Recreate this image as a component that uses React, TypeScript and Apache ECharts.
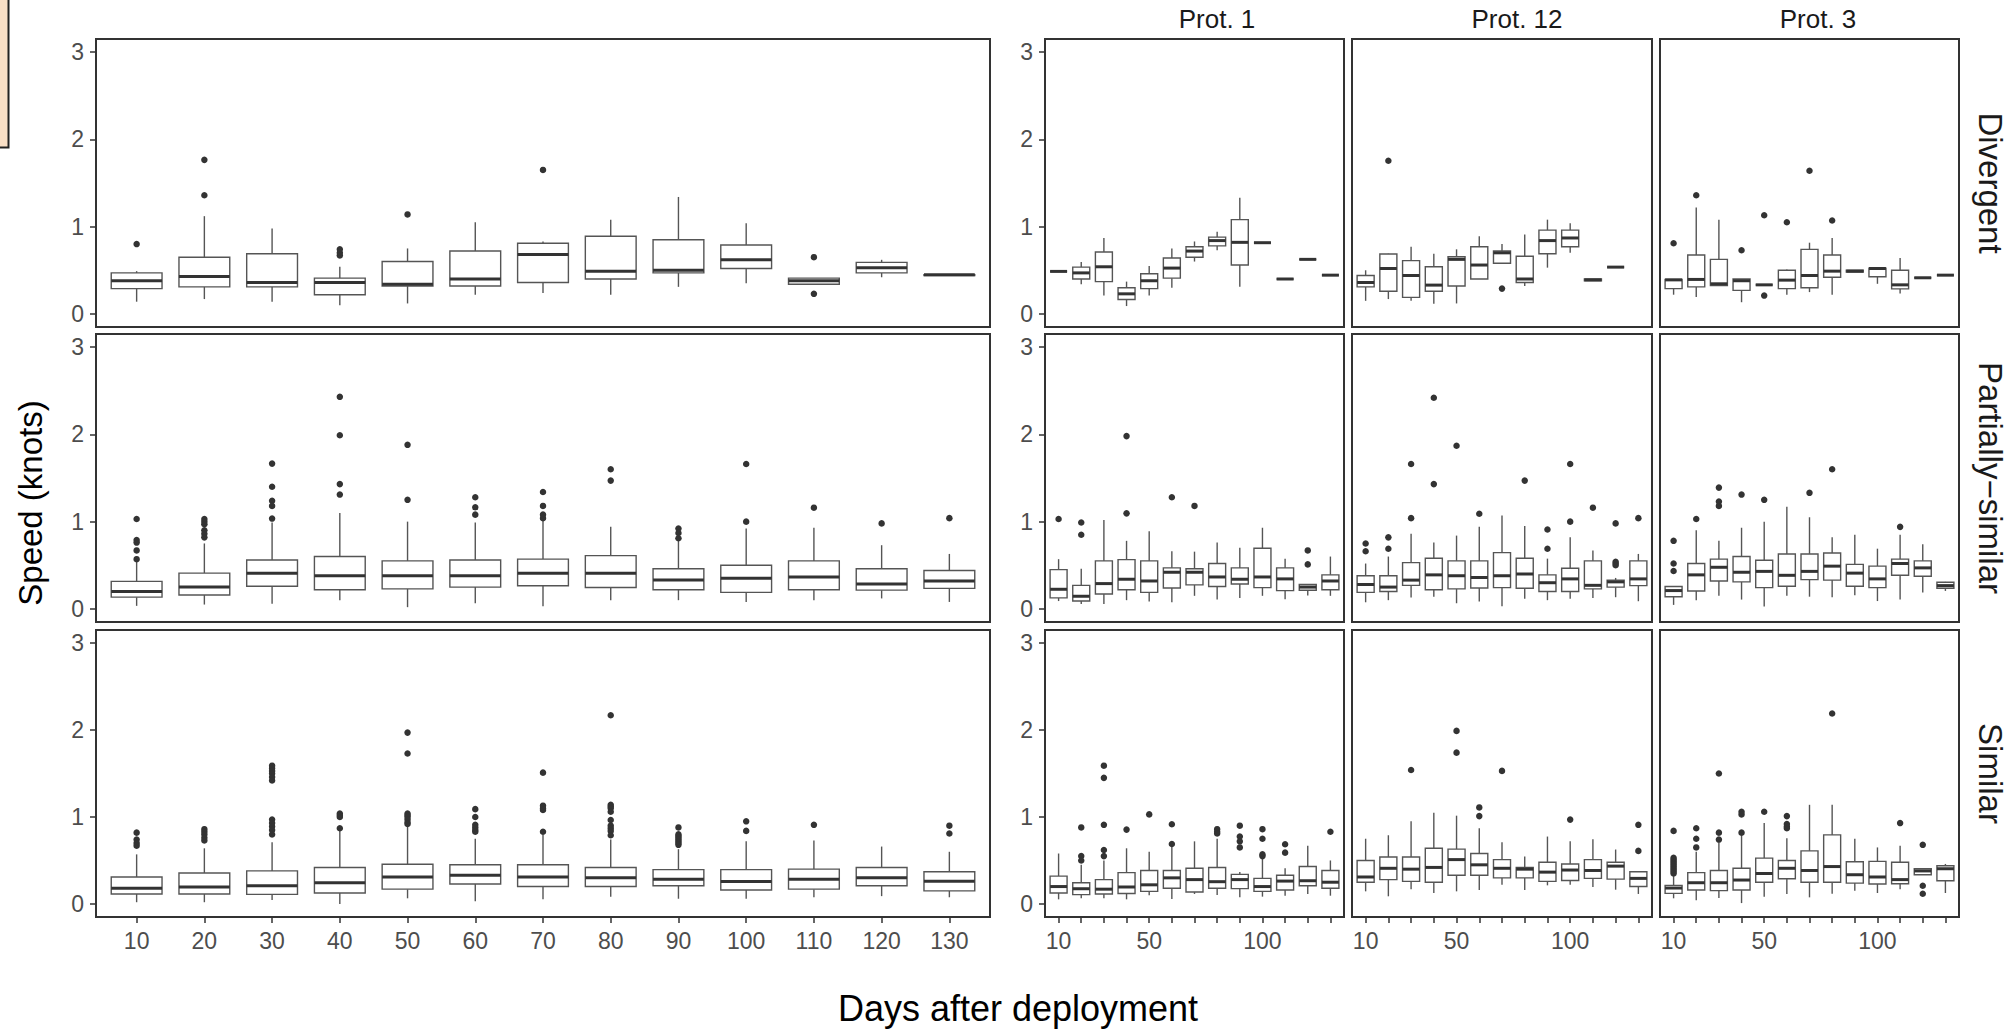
import React, { useEffect, useRef } from "react";
import * as echarts from "echarts";

// Sampling days (x categories) and labels
const days = [10, 20, 30, 40, 50, 60, 70, 80, 90, 100, 110, 120, 130];
const protTickDays = [10, 50, 100];
const yTicks = [0, 1, 2, 3];
const rowLabels = ["Divergent", "Partially\u2212similar", "Similar"];
const colTitles = ["", "Prot. 1", "Prot. 12", "Prot. 3"];

// Box statistics per day: [lower whisker, Q1, median, Q3, upper whisker]
type Box = number[] | null;

const allDivergent: Box[] = [
  [0.14, 0.29, 0.38, 0.47, 0.49],
  [0.17, 0.31, 0.43, 0.65, 1.12],
  [0.14, 0.31, 0.36, 0.69, 0.98],
  [0.1, 0.22, 0.36, 0.41, 0.54],
  [0.12, 0.32, 0.34, 0.6, 0.75],
  [0.22, 0.32, 0.4, 0.72, 1.05],
  [0.24, 0.36, 0.68, 0.81, 0.83],
  [0.22, 0.4, 0.49, 0.89, 1.08],
  [0.31, 0.47, 0.5, 0.85, 1.34],
  [0.35, 0.52, 0.62, 0.79, 1.04],
  [0.34, 0.34, 0.38, 0.41, 0.41],
  [0.42, 0.47, 0.53, 0.59, 0.62],
  [0.44, 0.44, 0.45, 0.45, 0.45],
];
const allDivergentOut: number[][] = [
  [0.8], [1.36, 1.765], [], [0.67, 0.7, 0.74], [1.14], [], [1.65], [], [], [], [0.65, 0.23], [], [],
];

const allPartial: Box[] = [
  [0.035, 0.135, 0.2, 0.315, 0.54],
  [0.05, 0.16, 0.25, 0.41, 0.75],
  [0.06, 0.26, 0.41, 0.56, 0.99],
  [0.1, 0.22, 0.38, 0.6, 1.1],
  [0.02, 0.23, 0.38, 0.55, 1.0],
  [0.065, 0.25, 0.38, 0.56, 0.99],
  [0.03, 0.265, 0.41, 0.57, 1.02],
  [0.1, 0.245, 0.41, 0.61, 0.94],
  [0.1, 0.22, 0.33, 0.46, 0.78],
  [0.08, 0.19, 0.35, 0.5, 0.92],
  [0.1, 0.22, 0.365, 0.55, 0.93],
  [0.12, 0.215, 0.285, 0.46, 0.73],
  [0.08, 0.235, 0.32, 0.44, 0.63],
];
const allPartialOut: number[][] = [
  [1.03, 0.79, 0.76, 0.67, 0.57],
  [1.03, 1.0, 0.97, 0.9, 0.86, 0.82],
  [1.665, 1.4, 1.24, 1.18, 1.035],
  [2.43, 1.99, 1.43, 1.31],
  [1.88, 1.25],
  [1.28, 1.165, 1.08],
  [1.34, 1.18, 1.08, 1.04],
  [1.6, 1.47],
  [0.92, 0.87, 0.81],
  [1.66, 1.0],
  [1.16],
  [0.98],
  [1.04],
];

const allSimilar: Box[] = [
  [0.02, 0.115, 0.18, 0.31, 0.57],
  [0.02, 0.115, 0.195, 0.356, 0.64],
  [0.046, 0.11, 0.21, 0.38, 0.71],
  [0.0, 0.126, 0.245, 0.42, 0.84],
  [0.065, 0.17, 0.31, 0.456, 0.89],
  [0.03, 0.23, 0.33, 0.45, 0.75],
  [0.054, 0.2, 0.31, 0.45, 0.8],
  [0.084, 0.2, 0.3, 0.42, 0.74],
  [0.06, 0.21, 0.284, 0.395, 0.63],
  [0.06, 0.16, 0.257, 0.395, 0.72],
  [0.077, 0.17, 0.284, 0.4, 0.73],
  [0.09, 0.21, 0.3, 0.42, 0.66],
  [0.077, 0.15, 0.26, 0.37, 0.6],
];
const allSimilarOut: number[][] = [
  [0.82, 0.74, 0.7, 0.67],
  [0.86, 0.83, 0.8, 0.76, 0.73],
  [1.59, 1.56, 1.53, 1.5, 1.46, 1.42, 0.97, 0.93, 0.89, 0.85, 0.8],
  [1.04, 1.02, 1.0, 0.87],
  [1.97, 1.73, 1.04, 1.02, 1.0, 0.97, 0.94, 0.92],
  [1.09, 1.0, 0.91, 0.88, 0.85, 0.83],
  [1.51, 1.13, 1.1, 1.08, 0.83],
  [2.17, 1.14, 1.12, 1.1, 1.06, 0.965, 0.9, 0.87, 0.84, 0.79],
  [0.88, 0.8, 0.78, 0.76, 0.74, 0.72, 0.7, 0.68],
  [0.95, 0.84],
  [0.91],
  [],
  [0.9, 0.81],
];

const p1Divergent: Box[] = [
  [0.487, 0.487, 0.487, 0.487, 0.487],
  [0.34, 0.4, 0.47, 0.536, 0.594],
  [0.21, 0.37, 0.54, 0.71, 0.87],
  [0.09, 0.165, 0.23, 0.3, 0.37],
  [0.21, 0.29, 0.38, 0.46, 0.55],
  [0.3, 0.41, 0.525, 0.64, 0.75],
  [0.6, 0.65, 0.72, 0.77, 0.83],
  [0.73, 0.78, 0.84, 0.88, 0.94],
  [0.31, 0.56, 0.82, 1.08, 1.33],
  [0.816, 0.816, 0.816, 0.816, 0.816],
  [0.4, 0.4, 0.4, 0.4, 0.4],
  [0.625, 0.625, 0.625, 0.625, 0.625],
  [0.444, 0.444, 0.444, 0.444, 0.444],
];
const p1DivergentOut: number[][] = [[], [], [], [], [], [], [], [], [], [], [], [], []];

const p12Divergent: Box[] = [
  [0.15, 0.31, 0.36, 0.44, 0.5],
  [0.17, 0.26, 0.52, 0.686, 0.69],
  [0.15, 0.19, 0.44, 0.61, 0.77],
  [0.115, 0.26, 0.33, 0.54, 0.69],
  [0.12, 0.32, 0.625, 0.655, 0.74],
  [0.4, 0.4, 0.56, 0.77, 0.89],
  [0.58, 0.58, 0.7, 0.72, 0.8],
  [0.32, 0.36, 0.4, 0.66, 0.91],
  [0.53, 0.69, 0.84, 0.96, 1.08],
  [0.7, 0.77, 0.87, 0.96, 1.04],
  [0.38, 0.38, 0.39, 0.4, 0.4],
  [0.536, 0.536, 0.536, 0.536, 0.536],
  null,
];
const p12DivergentOut: number[][] = [[], [1.755], [], [], [], [], [0.29], [], [], [], [], [], []];

const p3Divergent: Box[] = [
  [0.22, 0.29, 0.39, 0.395, 0.395],
  [0.195, 0.31, 0.395, 0.675, 1.22],
  [0.325, 0.325, 0.345, 0.625, 1.08],
  [0.134, 0.27, 0.38, 0.4, 0.4],
  [0.333, 0.333, 0.333, 0.333, 0.333],
  [0.22, 0.29, 0.387, 0.5, 0.51],
  [0.25, 0.3, 0.44, 0.74, 0.816],
  [0.22, 0.42, 0.49, 0.675, 0.87],
  [0.48, 0.48, 0.49, 0.5, 0.5],
  [0.345, 0.425, 0.52, 0.525, 0.536],
  [0.234, 0.287, 0.333, 0.5, 0.64],
  [0.414, 0.414, 0.414, 0.414, 0.414],
  [0.444, 0.444, 0.444, 0.444, 0.444],
];
const p3DivergentOut: number[][] = [
  [0.81], [1.36], [], [0.73], [1.13, 0.21], [1.05], [1.64], [1.07], [], [], [], [], [],
];

const p1Partial: Box[] = [
  [0.09, 0.126, 0.225, 0.45, 0.57],
  [0.057, 0.09, 0.145, 0.27, 0.46],
  [0.057, 0.17, 0.29, 0.55, 1.02],
  [0.1, 0.22, 0.34, 0.565, 0.78],
  [0.084, 0.19, 0.32, 0.55, 0.89],
  [0.076, 0.24, 0.42, 0.47, 0.66],
  [0.15, 0.275, 0.42, 0.46, 0.656],
  [0.107, 0.256, 0.366, 0.52, 0.76],
  [0.126, 0.286, 0.34, 0.47, 0.7],
  [0.15, 0.244, 0.366, 0.695, 0.93],
  [0.11, 0.21, 0.344, 0.47, 0.576],
  [0.153, 0.214, 0.25, 0.28, 0.28],
  [0.15, 0.22, 0.32, 0.39, 0.6],
];
const p1PartialOut: number[][] = [
  [1.03], [0.99, 0.85], [], [1.98, 1.095], [], [1.28], [1.18], [], [], [], [], [0.67, 0.51], [],
];

const p12Partial: Box[] = [
  [0.076, 0.19, 0.28, 0.38, 0.52],
  [0.1, 0.2, 0.25, 0.38, 0.6],
  [0.13, 0.27, 0.33, 0.53, 0.86],
  [0.14, 0.22, 0.39, 0.58, 0.76],
  [0.065, 0.23, 0.38, 0.55, 0.84],
  [0.084, 0.24, 0.36, 0.55, 0.94],
  [0.03, 0.244, 0.38, 0.645, 1.07],
  [0.115, 0.237, 0.4, 0.58, 0.95],
  [0.1, 0.2, 0.3, 0.39, 0.576],
  [0.115, 0.2, 0.344, 0.466, 0.82],
  [0.126, 0.23, 0.27, 0.55, 0.67],
  [0.134, 0.25, 0.31, 0.33, 0.355],
  [0.088, 0.267, 0.344, 0.55, 0.63],
];
const p12PartialOut: number[][] = [
  [0.75, 0.66], [0.82, 0.69], [1.66, 1.04], [2.42, 1.43], [1.87], [1.09], [], [1.47],
  [0.91, 0.69], [1.66, 1.0], [1.16], [0.98, 0.54, 0.52, 0.5], [1.04],
];

const p3Partial: Box[] = [
  [0.046, 0.14, 0.21, 0.256, 0.26],
  [0.1, 0.206, 0.39, 0.52, 0.9],
  [0.15, 0.32, 0.477, 0.57, 0.78],
  [0.107, 0.31, 0.42, 0.6, 0.93],
  [0.027, 0.244, 0.43, 0.557, 1.0],
  [0.15, 0.26, 0.385, 0.63, 1.17],
  [0.14, 0.336, 0.43, 0.63, 1.05],
  [0.134, 0.33, 0.49, 0.64, 0.82],
  [0.156, 0.26, 0.41, 0.51, 0.85],
  [0.09, 0.244, 0.344, 0.49, 0.69],
  [0.107, 0.385, 0.52, 0.57, 0.85],
  [0.187, 0.374, 0.47, 0.55, 0.74],
  [0.206, 0.237, 0.267, 0.305, 0.31],
];
const p3PartialOut: number[][] = [
  [0.78, 0.52, 0.435], [1.03], [1.39, 1.23, 1.18], [1.31], [1.25], [], [1.33], [1.6], [], [], [0.94], [], [],
];

const p1Similar: Box[] = [
  [0.053, 0.126, 0.2, 0.32, 0.58],
  [0.065, 0.107, 0.175, 0.244, 0.45],
  [0.065, 0.115, 0.17, 0.28, 0.5],
  [0.053, 0.12, 0.195, 0.36, 0.64],
  [0.1, 0.145, 0.22, 0.385, 0.6],
  [0.057, 0.18, 0.3, 0.385, 0.66],
  [0.115, 0.137, 0.28, 0.41, 0.72],
  [0.103, 0.18, 0.256, 0.42, 0.75],
  [0.076, 0.176, 0.28, 0.34, 0.366],
  [0.084, 0.145, 0.2, 0.294, 0.52],
  [0.095, 0.16, 0.263, 0.33, 0.41],
  [0.115, 0.21, 0.267, 0.43, 0.67],
  [0.095, 0.18, 0.25, 0.385, 0.5],
];
const p1SimilarOut: number[][] = [
  [], [0.88, 0.55, 0.5], [1.59, 1.45, 0.91, 0.62, 0.55], [0.855], [1.03], [0.916, 0.69], [],
  [0.86, 0.83, 0.81], [0.9, 0.775, 0.72, 0.65], [0.86, 0.75, 0.57, 0.55], [0.687, 0.59], [], [0.83],
];

const p12Similar: Box[] = [
  [0.145, 0.25, 0.31, 0.5, 0.75],
  [0.088, 0.28, 0.41, 0.54, 0.79],
  [0.17, 0.26, 0.4, 0.54, 0.95],
  [0.126, 0.25, 0.42, 0.64, 1.05],
  [0.145, 0.33, 0.51, 0.63, 1.015],
  [0.16, 0.33, 0.45, 0.58, 0.87],
  [0.22, 0.3, 0.41, 0.51, 0.71],
  [0.16, 0.3, 0.4, 0.42, 0.546],
  [0.214, 0.26, 0.366, 0.48, 0.775],
  [0.22, 0.27, 0.39, 0.46, 0.72],
  [0.195, 0.294, 0.385, 0.51, 0.744],
  [0.164, 0.286, 0.435, 0.48, 0.626],
  [0.115, 0.2, 0.294, 0.37, 0.37],
];
const p12SimilarOut: number[][] = [
  [], [], [1.54], [], [1.99, 1.74], [1.11, 1.01], [1.53], [], [], [0.97], [], [], [0.91, 0.61],
];

const p3Similar: Box[] = [
  [0.065, 0.122, 0.183, 0.214, 0.32],
  [0.042, 0.16, 0.244, 0.36, 0.6],
  [0.069, 0.153, 0.244, 0.385, 0.7],
  [0.01, 0.16, 0.275, 0.41, 0.79],
  [0.084, 0.25, 0.35, 0.527, 0.93],
  [0.115, 0.29, 0.41, 0.5, 0.756],
  [0.076, 0.25, 0.385, 0.61, 1.14],
  [0.118, 0.25, 0.43, 0.794, 1.14],
  [0.153, 0.24, 0.336, 0.485, 0.75],
  [0.126, 0.23, 0.31, 0.49, 0.65],
  [0.17, 0.233, 0.28, 0.48, 0.67],
  [0.336, 0.336, 0.38, 0.405, 0.41],
  [0.126, 0.267, 0.405, 0.44, 0.46],
];
const p3SimilarOut: number[][] = [
  [0.84, 0.53, 0.51, 0.49, 0.47, 0.45, 0.43, 0.41, 0.39, 0.37, 0.35],
  [0.87, 0.75, 0.65], [1.5, 0.82, 0.74], [1.06, 1.03, 0.82], [1.06], [1.01, 0.92, 0.89, 0.87],
  [], [2.19], [], [], [0.93], [0.68, 0.21, 0.118], [],
];

// Facet grid: rows = group, columns = all data / protocols
const panelBoxes: Box[][][] = [
  [allDivergent, p1Divergent, p12Divergent, p3Divergent],
  [allPartial, p1Partial, p12Partial, p3Partial],
  [allSimilar, p1Similar, p12Similar, p3Similar],
];
const panelOutliers: number[][][][] = [
  [allDivergentOut, p1DivergentOut, p12DivergentOut, p3DivergentOut],
  [allPartialOut, p1PartialOut, p12PartialOut, p3PartialOut],
  [allSimilarOut, p1SimilarOut, p12SimilarOut, p3SimilarOut],
];

// Panel geometry (px)
const COL_X = [
  [96, 990],
  [1045, 1344],
  [1352, 1652],
  [1660, 1959],
];
const ROW_Y = [
  [39, 327],
  [334, 622],
  [630, 917],
];
// strip title anchors above the protocol columns
const TITLE_X = [0, 1217, 1517, 1818];

const FONT = "'Liberation Sans', Arial, Helvetica, sans-serif";
const BOX_HALF = 0.375;

const renderBox = (_params: any, api: any) => {
  const x = api.value(0);
  const lo = api.value(1);
  const q1 = api.value(2);
  const md = api.value(3);
  const q3 = api.value(4);
  const hi = api.value(5);
  const tl = api.coord([x - BOX_HALF, q3]);
  const br = api.coord([x + BOX_HALF, q1]);
  const mid = api.coord([x, md]);
  const pLo = api.coord([x, lo]);
  const pHi = api.coord([x, hi]);
  const stroke = "#555555";
  const children: any[] = [];
  if (hi > q3) {
    children.push({
      type: "line",
      shape: { x1: pHi[0], y1: pHi[1], x2: pHi[0], y2: tl[1] },
      style: { stroke, lineWidth: 1.4 },
    });
  }
  if (lo < q1) {
    children.push({
      type: "line",
      shape: { x1: pLo[0], y1: br[1], x2: pLo[0], y2: pLo[1] },
      style: { stroke, lineWidth: 1.4 },
    });
  }
  children.push({
    type: "rect",
    shape: { x: tl[0], y: tl[1], width: br[0] - tl[0], height: Math.max(br[1] - tl[1], 0) },
    style: { fill: "#ffffff", stroke, lineWidth: 1.4 },
  });
  children.push({
    type: "line",
    shape: { x1: tl[0], y1: mid[1], x2: br[0], y2: mid[1] },
    style: { stroke: "#333333", lineWidth: 3 },
  });
  return { type: "group", children };
};

function buildOption() {
  const grid: any[] = [];
  const xAxis: any[] = [];
  const yAxis: any[] = [];
  const series: any[] = [];
  const graphic: any[] = [];
  const dayIdx = days.map((_, i) => i + 1);
  const protIdx = protTickDays.map((d) => days.indexOf(d) + 1);

  for (let r = 0; r < 3; r++) {
    for (let c = 0; c < 4; c++) {
      const gi = r * 4 + c;
      const [x0, x1] = COL_X[c];
      const [y0, y1] = ROW_Y[r];
      grid.push({
        left: x0,
        top: y0,
        width: x1 - x0,
        height: y1 - y0,
        show: true,
        backgroundColor: "#ffffff",
        borderColor: "#333333",
        borderWidth: 2,
        containLabel: false,
      });
      const bottomRow = r === 2;
      xAxis.push({
        gridIndex: gi,
        type: "value",
        position: "bottom",
        min: 0.4,
        max: 13.6,
        axisLine: { show: false, onZero: false },
        splitLine: { show: false },
        axisTick: {
          show: bottomRow,
          customValues: dayIdx,
          length: 6,
          lineStyle: { color: "#333333", width: 1.5 },
        },
        axisLabel: {
          show: bottomRow,
          customValues: c === 0 ? dayIdx : protIdx,
          formatter: (v: number) => String(days[Math.round(v) - 1]),
          fontSize: 23,
          fontFamily: FONT,
          color: "#4d4d4d",
          margin: 12,
        },
      });
      const showY = c <= 1;
      yAxis.push({
        gridIndex: gi,
        type: "value",
        position: "left",
        min: -0.15,
        max: 3.15,
        axisLine: { show: false, onZero: false },
        splitLine: { show: false },
        axisTick: {
          show: showY,
          customValues: yTicks,
          length: 6,
          lineStyle: { color: "#333333", width: 1.5 },
        },
        axisLabel: {
          show: showY,
          customValues: yTicks,
          formatter: (v: number) => String(v),
          fontSize: 23,
          fontFamily: FONT,
          color: "#4d4d4d",
          margin: 12,
        },
      });

      const boxes = panelBoxes[r][c];
      const boxData: number[][] = [];
      boxes.forEach((b, i) => {
        if (b) boxData.push([i + 1, ...b]);
      });
      series.push({
        type: "custom",
        coordinateSystem: "cartesian2d",
        xAxisIndex: gi,
        yAxisIndex: gi,
        renderItem: renderBox,
        encode: { x: 0, y: [1, 2, 3, 4, 5] },
        data: boxData,
        z: 2,
      });
      const outData: number[][] = [];
      panelOutliers[r][c].forEach((vals, i) => vals.forEach((v) => outData.push([i + 1, v])));
      series.push({
        type: "scatter",
        xAxisIndex: gi,
        yAxisIndex: gi,
        symbol: "circle",
        symbolSize: 6.5,
        itemStyle: { color: "#333333", opacity: 1 },
        data: outData,
        z: 3,
      });
    }
  }

  // column strip titles
  for (let c = 1; c < 4; c++) {
    graphic.push({
      type: "text",
      x: TITLE_X[c],
      y: 19,
      style: {
        text: colTitles[c],
        fontSize: 26,
        fontFamily: FONT,
        fill: "#1a1a1a",
        align: "center",
        verticalAlign: "middle",
      },
    });
  }
  // row strip labels (right side)
  for (let r = 0; r < 3; r++) {
    graphic.push({
      type: "text",
      x: 1990,
      y: (ROW_Y[r][0] + ROW_Y[r][1]) / 2,
      rotation: -Math.PI / 2,
      style: {
        text: rowLabels[r],
        fontSize: 33,
        fontFamily: FONT,
        fill: "#1a1a1a",
        align: "center",
        verticalAlign: "middle",
      },
    });
  }
  // axis titles
  graphic.push({
    type: "text",
    x: 30,
    y: 503,
    rotation: Math.PI / 2,
    style: {
      text: "Speed (knots)",
      fontSize: 33,
      fontFamily: FONT,
      fill: "#000000",
      align: "center",
      verticalAlign: "middle",
    },
  });
  graphic.push({
    type: "text",
    x: 1018,
    y: 1008,
    style: {
      text: "Days after deployment",
      fontSize: 36,
      fontFamily: FONT,
      fill: "#000000",
      align: "center",
      verticalAlign: "middle",
    },
  });
  // clipped swatch at the top-left corner
  graphic.push({
    type: "rect",
    shape: { x: -4, y: -4, width: 12.5, height: 151.5 },
    style: { fill: "#f9dfc6", stroke: "#222222", lineWidth: 2 },
  });

  return {
    animation: false,
    backgroundColor: "#ffffff",
    grid,
    xAxis,
    yAxis,
    series,
    graphic,
  };
}

export default function App() {
  const ref = useRef<HTMLDivElement>(null);
  useEffect(() => {
    document.body.style.margin = "0";
    if (!ref.current) return;
    const chart = echarts.init(ref.current, undefined, { renderer: "svg" });
    chart.setOption(buildOption() as any);
    return () => chart.dispose();
  }, []);
  return <div ref={ref} style={{ width: 2010, height: 1030 }} />;
}
